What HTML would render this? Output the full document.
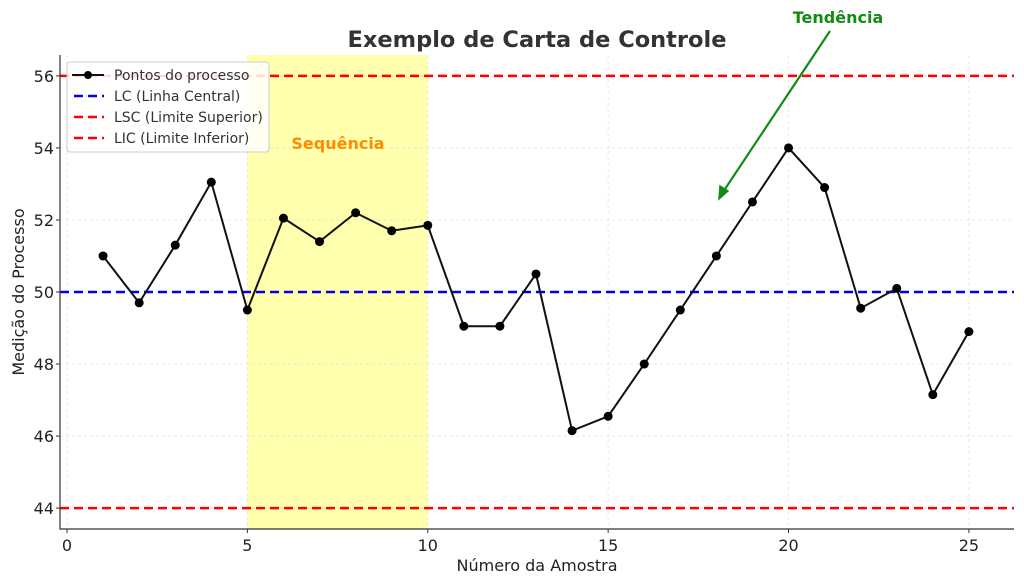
<!DOCTYPE html>
<html><head><meta charset="utf-8"><style>
html,body{margin:0;padding:0;background:#fff;overflow:hidden;}
svg{display:block;font-family:"DejaVu Sans","Liberation Sans",sans-serif;}
</style></head><body>
<svg id="chart" width="1024" height="584" xmlns="http://www.w3.org/2000/svg">
<rect width="1024" height="584" fill="#fff"/>
<g id="g"></g>
<text x="537" y="47" text-anchor="middle" font-size="22.5" font-weight="bold" fill="#333">Exemplo de Carta de Controle</text>
<text x="537" y="571" text-anchor="middle" font-size="16" fill="#222">Número da Amostra</text>
<text transform="translate(24,292) rotate(-90)" text-anchor="middle" font-size="16" fill="#222">Medição do Processo</text>
<text x="338" y="149" text-anchor="middle" font-size="16" font-weight="bold" fill="#ff8c00">Sequência</text>
<text x="838" y="23" text-anchor="middle" font-size="16" font-weight="bold" fill="#138a13">Tendência</text>
<g>
<line x1="830" y1="31" x2="723" y2="192" stroke="#138a13" stroke-width="2.2"/>
<path d="M719 199 L720 186 L728 191 Z" fill="#138a13" stroke="#138a13" stroke-width="1.5"/>
</g>
<g>
<rect x="67" y="62" width="202" height="90" rx="3" fill="#fff" fill-opacity="0.85" stroke="#ccc"/>
<g>
<line x1="72" y1="75" x2="104" y2="75" stroke="#111" stroke-width="2"/><circle cx="88" cy="75" r="4" fill="#000"/>
<text x="114" y="80" font-size="14" fill="#333">Pontos do processo</text></g>
<g>
<line x1="74" y1="96" x2="104" y2="96" stroke="#0000ee" stroke-width="2.5" stroke-dasharray="9,5"/>
<text x="114" y="101" font-size="14" fill="#333">LC (Linha Central)</text></g>
<g>
<line x1="74" y1="117" x2="104" y2="117" stroke="#ff0000" stroke-width="2.5" stroke-dasharray="9,5"/>
<text x="114" y="122" font-size="14" fill="#333">LSC (Limite Superior)</text></g>
<g>
<line x1="74" y1="138" x2="104" y2="138" stroke="#ff0000" stroke-width="2.5" stroke-dasharray="9,5"/>
<text x="114" y="143" font-size="14" fill="#333">LIC (Limite Inferior)</text></g>
</g>
</svg>
<script>
const samples=[1,2,3,4,5,6,7,8,9,10,11,12,13,14,15,16,17,18,19,20,21,22,23,24,25];
const values=[51.0,49.7,51.3,53.05,49.5,52.05,51.4,52.2,51.7,51.85,49.05,49.05,50.5,46.15,46.55,48.0,49.5,51.0,52.5,54.0,52.9,49.55,50.1,47.15,48.9];
const xTicks=[0,5,10,15,20,25];
const yTicks=[44,46,48,50,52,54,56];
const limits=[56,50,44];
const L=60,R=1014,T=55,B=529;
const xMin=-0.194,xMax=26.25,yMin=43.42,yMax=56.58;
const X=v=>L+(v-xMin)/(xMax-xMin)*(R-L);
const Y=v=>B-(v-yMin)/(yMax-yMin)*(B-T);
const NS="http://www.w3.org/2000/svg";
const g=document.getElementById('g');
function mk(t,a,p){const e=document.createElementNS(NS,t);for(const k in a)e.setAttribute(k,a[k]);(p||g).appendChild(e);return e;}
let e=mk('rect',{x:X(5),y:T,width:X(10)-X(5),height:B-T,fill:'#ffff99',opacity:0.8});


xTicks.forEach(v=>{let l=mk('line',{x1:X(v),x2:X(v),y1:T,y2:B,stroke:'#e4e4e4','stroke-dasharray':'3,3','stroke-width':0.8});

});
yTicks.forEach(v=>{let l=mk('line',{x1:L,x2:R,y1:Y(v),y2:Y(v),stroke:'#e4e4e4','stroke-dasharray':'3,3','stroke-width':0.8});

});
const limColors=['#ff0000','#0000ee','#ff0000'];
const limNames=['lsc-line','lc-line','lic-line'];
limits.forEach((v,i)=>{let l=mk('line',{x1:L,x2:R,y1:Y(v),y2:Y(v),stroke:limColors[i],'stroke-width':2.5,'stroke-dasharray':'9,5'});

});
let pl=mk('polyline',{points:samples.map((s,i)=>X(s)+','+Y(values[i])).join(' '),fill:'none',stroke:'#111','stroke-width':2});


samples.forEach((s,i)=>{let c=mk('circle',{cx:X(s),cy:Y(values[i]),r:4.5,fill:'#000'});

});
let a=mk('path',{d:`M${L} ${T}V${B}H${R}`,fill:'none',stroke:'#333','stroke-width':1.2});


xTicks.forEach(v=>{mk('line',{x1:X(v),x2:X(v),y1:B,y2:B+4,stroke:'#333'});
let t=mk('text',{x:X(v),y:B+22,'text-anchor':'middle','font-size':16,fill:'#222'});t.textContent=v;

});
yTicks.forEach(v=>{mk('line',{x1:L-4,x2:L,y1:Y(v),y2:Y(v),stroke:'#333'});
let t=mk('text',{x:L-6,y:Y(v)+6,'text-anchor':'end','font-size':16,fill:'#222'});t.textContent=v;

});
</script>
</body></html>
